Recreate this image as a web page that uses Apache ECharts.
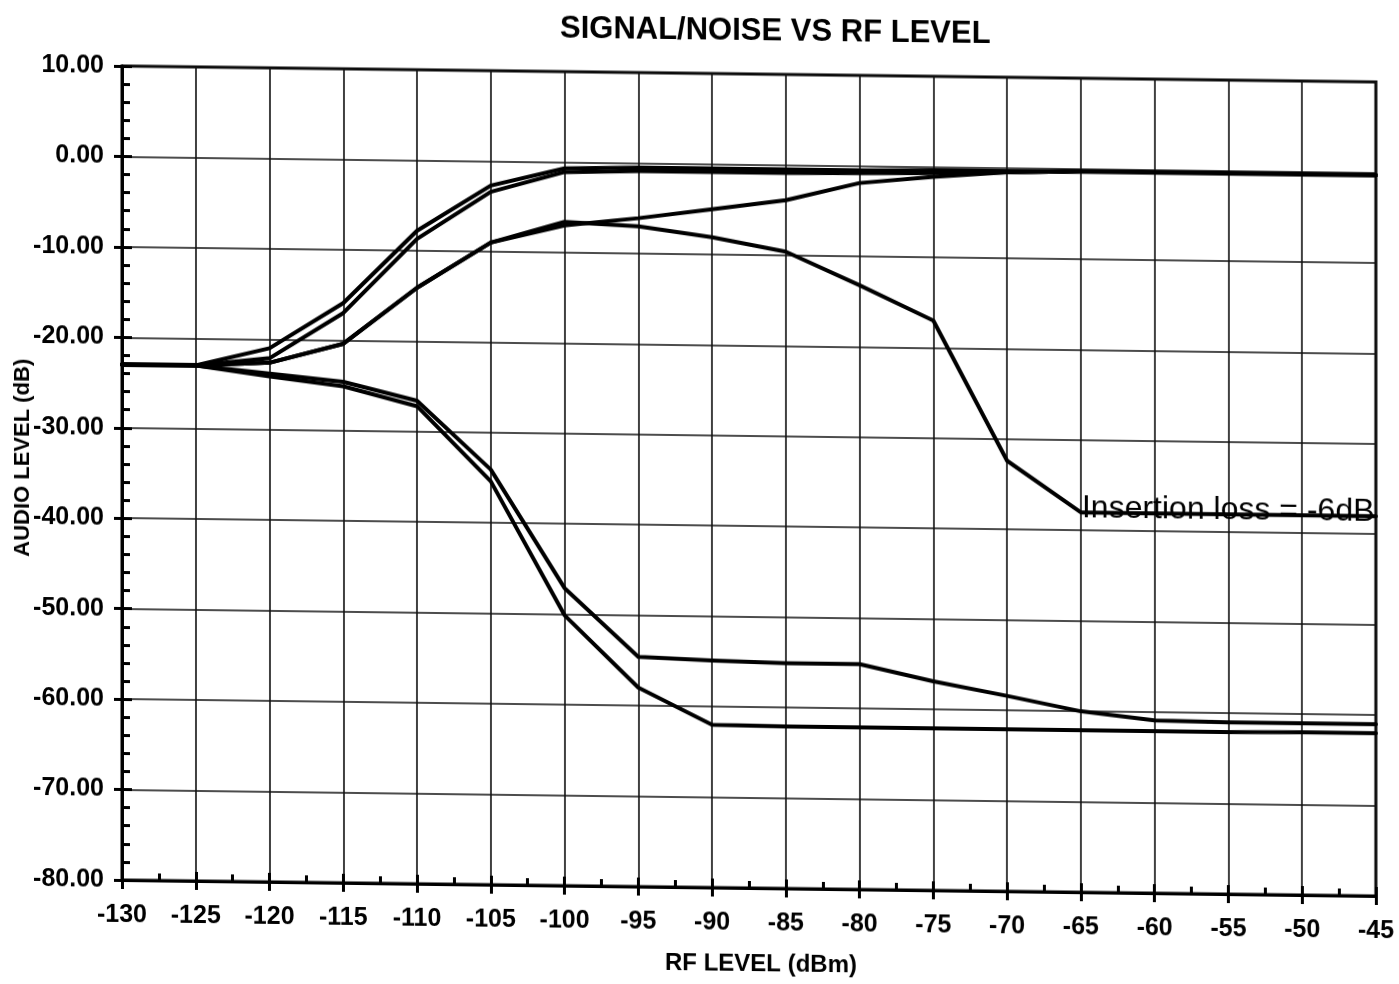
<!DOCTYPE html>
<html>
<head>
<meta charset="utf-8">
<script src="https://cdn.jsdelivr.net/npm/echarts@6/dist/echarts.min.js"></script>
<style>
html,body{margin:0;padding:0;background:#fff;}
#chart{width:1399px;height:984px;transform:skewY(0.73deg);transform-origin:122px 0;}
</style>
</head>
<body>
<div id="chart"></div>
<script>
// RF level (dBm)
const rfLevel = [-130, -125, -120, -115, -110, -105, -100, -95, -90, -85, -80, -75, -70, -65, -60, -55, -50, -45];
// Audio level (dB) curves
const signalA = [-23, -23, -21.0, -15.9, -7.8, -2.7, -0.7, -0.5, -0.5, -0.5, -0.5, -0.4, -0.4, -0.3, -0.3, -0.3, -0.3, -0.3];
const signalB = [-23, -23, -22.1, -17.0, -8.7, -3.4, -1.1, -0.9, -0.9, -0.9, -0.8, -0.7, -0.5, -0.3, -0.3, -0.3, -0.3, -0.3];
const signalC = [-23, -23, -22.6, -20.4, -14.1, -9.0, -7.0, -6.1, -5.0, -3.9, -1.9, -1.1, -0.5, -0.3, -0.3, -0.3, -0.3, -0.3];
const signalD = [-23, -23, -22.6, -20.4, -14.1, -9.0, -6.6, -7.0, -8.1, -9.6, -13.2, -17.0, -32.4, -38.0, -38.0, -38.0, -38.0, -38.0];
const noiseA = [-23, -23, -23.8, -24.6, -26.6, -34.1, -47.1, -54.6, -54.9, -55.1, -55.1, -56.9, -58.4, -60.0, -60.9, -61.0, -61.0, -61.0];
const noiseB = [-23, -23, -24.1, -25.1, -27.2, -35.4, -50.1, -58.0, -62.0, -62.1, -62.1, -62.1, -62.1, -62.1, -62.1, -62.1, -62.0, -62.0];
// Annotation
const noteText = 'Insertion loss = -6dB';
const notePoint = [-65, -37.6];

const FONT = '"Liberation Sans", Arial, sans-serif';
const pairs = ys => rfLevel.map((x, i) => [x, ys[i]]);

function lineSeries(name, ys, extra) {
  return Object.assign({
    name: name,
    type: 'line',
    data: pairs(ys),
    symbol: 'none',
    xAxisIndex: 0,
    yAxisIndex: 0,
    lineStyle: { color: '#000', width: 4, join: 'round', cap: 'round' },
    itemStyle: { color: '#000' },
    animation: false,
    z: 5
  }, extra || {});
}

const chart = echarts.init(document.getElementById('chart'), null, { renderer: 'canvas' });
chart.setOption({
  animation: false,
  backgroundColor: '#fff',
  title: {
    text: 'SIGNAL/NOISE VS RF LEVEL',
    left: 555,
    top: 3,
    textStyle: { fontFamily: FONT, fontSize: 31, fontWeight: 'bold', color: '#000' }
  },
  grid: {
    left: 122, right: 23, top: 66, bottom: 104,
    outerBoundsMode: 'none',
    containLabel: false,
    show: true, borderColor: '#000', borderWidth: 3, backgroundColor: 'transparent'
  },
  xAxis: [{
    type: 'value',
    min: -130, max: -45, interval: 5,
    name: 'RF LEVEL (dBm)',
    nameLocation: 'middle',
    nameGap: 64,
    nameMoveOverlap: false,
    nameTextStyle: { fontFamily: FONT, fontSize: 24, fontWeight: 'bold', color: '#000', padding: [0, 0, 0, 24] },
    axisLine: { show: true, onZero: false, lineStyle: { color: '#000', width: 3 } },
    axisTick: { show: true, inside: true, length: 9, lineStyle: { color: '#000', width: 3 } },
    minorTick: { show: true, splitNumber: 2, length: 7, lineStyle: { color: '#000', width: 3 } },
    axisLabel: { fontFamily: FONT, fontSize: 25, fontWeight: 'bold', color: '#000', margin: 23 },
    splitLine: { show: true, lineStyle: { color: '#111', width: 1.6 } }
  }, {
    type: 'value',
    min: -130, max: -45, interval: 5,
    position: 'bottom',
    axisLine: { show: false, onZero: false },
    axisTick: { show: true, inside: false, length: 9, lineStyle: { color: '#000', width: 3 } },
    axisLabel: { show: false },
    splitLine: { show: false }
  }],
  yAxis: [{
    type: 'value',
    min: -80, max: 10, interval: 10,
    name: 'AUDIO LEVEL (dB)',
    nameLocation: 'middle',
    nameRotate: 90,
    nameGap: 88,
    nameMoveOverlap: false,
    nameTextStyle: { fontFamily: FONT, fontSize: 22, fontWeight: 'bold', color: '#000', padding: [0, 0, 0, 28] },
    axisLine: { show: true, onZero: false, lineStyle: { color: '#000', width: 3 } },
    axisTick: { show: true, inside: true, length: 10, lineStyle: { color: '#000', width: 3 } },
    minorTick: { show: true, splitNumber: 5, length: 8, lineStyle: { color: '#000', width: 3 } },
    axisLabel: {
      fontFamily: FONT, fontSize: 25, fontWeight: 'bold', color: '#000', margin: 18,
      formatter: v => v.toFixed(2)
    },
    splitLine: { show: true, lineStyle: { color: '#111', width: 1.6 } }
  }, {
    type: 'value',
    min: -80, max: 10, interval: 10,
    position: 'left',
    axisLine: { show: false, onZero: false },
    axisTick: { show: true, inside: false, length: 8, lineStyle: { color: '#000', width: 3 } },
    axisLabel: { show: false },
    splitLine: { show: false }
  }],
  series: [
    lineSeries('Signal A', signalA),
    lineSeries('Signal B', signalB),
    lineSeries('Signal C', signalC),
    lineSeries('Signal D', signalD, {
      markPoint: {
        symbol: 'circle',
        symbolSize: 0,
        silent: true,
        data: [{ coord: notePoint, value: noteText }],
        label: {
          show: true,
          position: 'right',
          distance: 1,
          formatter: noteText,
          fontFamily: FONT,
          fontSize: 32,
          fontWeight: 'normal',
          color: '#000'
        }
      }
    }),
    lineSeries('Noise A', noiseA),
    lineSeries('Noise B', noiseB)
  ]
});
</script>
</body>
</html>
